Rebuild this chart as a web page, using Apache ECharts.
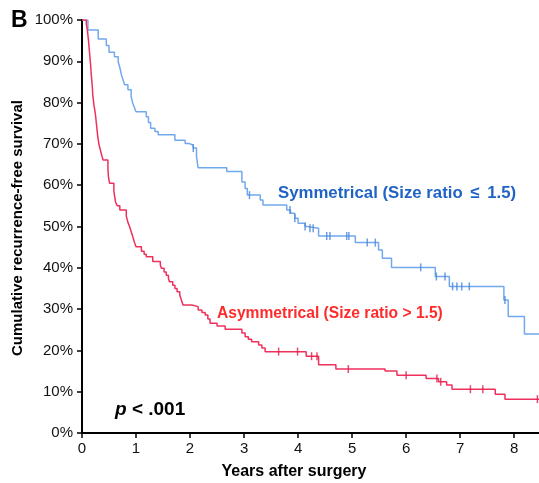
<!DOCTYPE html>
<html><head><meta charset="utf-8">
<script src="https://cdn.jsdelivr.net/npm/echarts@6/dist/echarts.min.js"></script>
<style>html,body{margin:0;padding:0;background:#fff}#c{width:539px;height:483px}</style>
</head><body><div id="c"></div>
<script>
// Kaplan-Meier curves: [years, survival %] (value after each drop)
const symTimes = [0,0.11,0.30,0.45,0.50,0.60,0.67,0.70,0.73,0.76,0.79,0.85,0.91,0.94,0.97,1.00,1.19,1.23,1.27,1.35,1.41,1.72,1.91,1.98,2.06,2.12,2.15,2.68,2.96,3.02,3.06,3.30,3.35,3.79,3.86,3.94,4.00,4.13,4.17,4.38,5.06,5.49,5.56,5.73,6.54,6.80,7.81,7.89,8.19,8.46];
const symSurv  = [100,97.6,95.4,93.8,92.2,91.1,89.9,88.5,86.7,85.5,84.3,83.1,81.4,79.8,78.8,77.8,76.6,75.2,73.8,73.0,72.2,70.9,70.1,69.7,69.0,66.9,64.2,63.3,60.8,59.2,57.6,56.4,55.2,54.0,53.2,52.0,50.8,50.0,49.6,47.7,46.1,44.3,42.3,40.1,37.9,35.5,32.2,28.2,24.0,24.0];
const symCensor = [2.06,3.10,3.85,3.94,4.13,4.22,4.28,4.53,4.59,4.90,4.94,5.28,5.43,6.27,6.56,6.72,6.86,6.94,7.03,7.17,7.83];

const asyTimes = [0,0.08,0.10,0.12,0.14,0.16,0.17,0.19,0.20,0.22,0.25,0.27,0.29,0.31,0.34,0.37,0.39,0.48,0.49,0.51,0.59,0.62,0.65,0.70,0.82,0.85,0.88,0.91,0.94,0.97,1.00,1.10,1.15,1.19,1.31,1.45,1.47,1.52,1.56,1.60,1.62,1.68,1.72,1.76,1.81,1.84,1.87,2.03,2.15,2.22,2.28,2.33,2.37,2.50,2.65,2.96,3.02,3.08,3.14,3.27,3.33,3.39,4.15,4.38,4.70,5.61,5.83,6.37,6.60,6.75,6.85,7.65,7.83,8.46];
const asySurv  = [100,99,97.5,95,92,89,87,84,81.8,79.5,77,74.5,72,70.1,68.5,67,66.1,64,62,60.5,58.5,56,55,54,52.5,51,50,48.8,47.5,46.2,45.1,44,43.3,42.7,41.5,40.7,39.9,39,38.2,37.4,36.6,35.8,35.0,34.2,33.4,32.2,31.0,30.6,29.8,29.2,28.6,27.6,26.6,25.9,25.1,24.2,23.3,22.7,22.1,21.3,20.6,19.7,18.6,16.5,15.5,15.0,14.0,13.2,12.4,11.6,10.6,9.4,8.2,8.2];
const asyCensor = [3.64,3.99,4.25,4.35,4.93,6.00,6.57,6.64,7.19,7.42,8.43];

const xTicks = [0,1,2,3,4,5,6,7,8];
const yTicks = [0,10,20,30,40,50,60,70,80,90,100];

const symLabelA = 'Symmetrical (Size ratio ', symLabelB = '\u2264', symLabelC = ' 1.5)';
const asyLabel = 'Asymmetrical (Size ratio > 1.5)';
const xTitle = 'Years after surgery';
const yTitle = 'Cumulative recurrence-free survival';

function pairs(t, s){ return t.map((v,i)=>[v,s[i]]); }
function atTime(t, s, c){ let v=s[0]; for(let i=0;i<t.length;i++){ if(t[i]<=c) v=s[i]; } return v; }
function censorPts(t, s, cs){ return cs.map(c=>[c, atTime(t,s,c)]); }

const blueLine='#72a9ee', blueMark='#4a86d6', blueText='#1f63c4';
const redLine='#f0305c', redMark='#e0204c', redText='#ff2b2b';
const font='"Liberation Sans", Arial, sans-serif';

const chart = echarts.init(document.getElementById('c'), null, {renderer:'canvas'});
chart.setOption({
  animation:false,
  grid:{left:82,right:0,top:20,bottom:50,containLabel:false},
  xAxis:{type:'value',min:0,max:8.46,interval:1,
    axisLine:{lineStyle:{color:'#000',width:2}},
    axisTick:{show:true,length:5,lineStyle:{color:'#000',width:1.5},customValues:xTicks},
    axisLabel:{color:'#111',fontSize:15,fontFamily:font,margin:8,customValues:xTicks},
    splitLine:{show:false}},
  yAxis:{type:'value',min:0,max:100,interval:10,
    axisLine:{show:true,lineStyle:{color:'#000',width:2}},
    axisTick:{show:true,length:5,lineStyle:{color:'#000',width:1.5}},
    axisLabel:{color:'#111',fontSize:15,fontFamily:font,margin:9,formatter:'{value}%'},
    splitLine:{show:false}},
  series:[
    {type:'line',step:'end',data:pairs(symTimes,symSurv),symbol:'none',lineStyle:{color:blueLine,width:1.5},z:3},
    {type:'line',step:'end',data:pairs(asyTimes,asySurv),symbol:'none',lineStyle:{color:redLine,width:1.5},z:4},
    {type:'scatter',data:censorPts(symTimes,symSurv,symCensor),symbol:'rect',symbolSize:[1.5,8],itemStyle:{color:blueMark},z:5},
    {type:'scatter',data:censorPts(asyTimes,asySurv,asyCensor),symbol:'rect',symbolSize:[1.5,8],itemStyle:{color:redMark},z:5}
  ],
  graphic:[
    {type:'text',left:11,top:9,style:{text:'B',font:'bold 23px '+font,fill:'#000'}},
    {type:'text',x:278,y:193,style:{
      rich:{a:{font:'bold 16.8px '+font,fill:blueText},b:{font:'bold 16.8px '+font,fill:blueText,padding:[0,3,0,3]}},
      text:'{a|'+symLabelA+'}{b|'+symLabelB+'}{a|'+symLabelC+'}',verticalAlign:'middle'}},
    {type:'text',x:217,y:314,style:{text:asyLabel,font:'bold 15.6px '+font,fill:redText,verticalAlign:'middle'}},
    {type:'text',x:115,y:410,style:{rich:{p:{font:'italic bold 19px '+font,fill:'#000'},r:{font:'bold 19px '+font,fill:'#000'}},text:'{p|p}{r| < .001}',verticalAlign:'middle'}},
    {type:'text',x:294,y:472,style:{text:xTitle,font:'bold 16px '+font,fill:'#000',align:'center',verticalAlign:'middle'}},
    {type:'text',x:18,y:228,rotation:Math.PI/2,style:{text:yTitle,font:'bold 15px '+font,fill:'#000',align:'center',verticalAlign:'middle'}}
  ]
});
</script></body></html>
